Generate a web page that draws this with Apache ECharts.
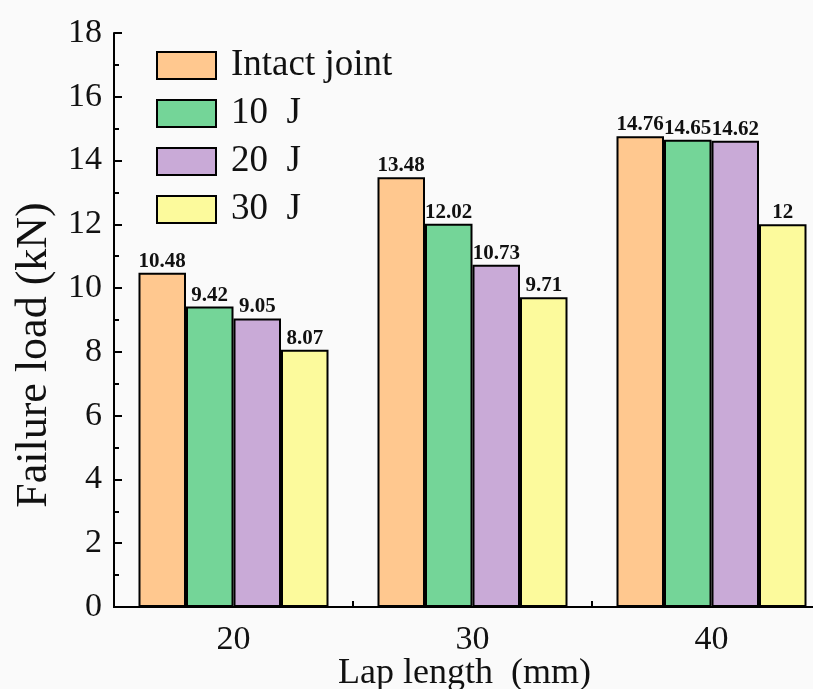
<!DOCTYPE html>
<html>
<head>
<meta charset="utf-8">
<script src="https://cdn.jsdelivr.net/npm/echarts@6/dist/echarts.min.js"></script>
<style>
html,body{margin:0;padding:0;background:#fafafa;}
#chart{width:813px;height:689px;}
</style>
</head>
<body>
<div id="chart"></div>
<script>
const categories = ['20', '30', '40'];
const seriesNames = ['Intact joint', '10 J', '20 J', '30 J'];
const intact = [10.48, 13.48, 14.76];
const j10 = [9.42, 12.02, 14.65];
const j20 = [9.05, 10.73, 14.62];
const j30 = [8.07, 9.71, 12];
const colors = ['#FFC88F', '#74D598', '#C9AAD7', '#FCFA9C'];

const serif = '"Liberation Serif", "DejaVu Serif", serif';
const chart = echarts.init(document.getElementById('chart'));
const dataSets = [intact, j10, j20, j30];

chart.setOption({
  backgroundColor: '#fafafa',
  animation: false,
  grid: { left: 114, top: 33, width: 717, height: 574, outerBoundsMode: 'none', containLabel: false },
  legend: {
    orient: 'vertical',
    left: 151,
    top: 42,
    icon: 'rect',
    itemWidth: 59,
    itemHeight: 27,
    itemGap: 11,
    data: seriesNames,
    formatter: (name) => name.replace(/ J$/, '  J'),
    itemStyle: { borderColor: '#000', borderWidth: 2 },
    textStyle: { fontFamily: serif, fontSize: 37, color: '#111', lineHeight: 36, padding: [0, 0, 0, 10] }
  },
  xAxis: [{
    type: 'category',
    data: categories,
    position: 'bottom',
    axisLine: { lineStyle: { color: '#000', width: 2 } },
    axisTick: { show: true, inside: true, length: 6, lineStyle: { color: '#000', width: 2 } },
    axisLabel: { fontFamily: serif, fontSize: 34, color: '#111', margin: 16 },
    name: 'Lap length  (mm)',
    nameLocation: 'middle',
    nameGap: 49,
    nameMoveOverlap: false,
    nameTextStyle: { fontFamily: serif, fontSize: 36, color: '#111', lineHeight: 36, padding: [0, 16, 0, 0] }
  }, {
    type: 'category',
    data: categories,
    position: 'top',
    axisLine: { lineStyle: { color: '#000', width: 2 } },
    axisTick: { show: false },
    axisLabel: { show: false }
  }],
  yAxis: [{
    type: 'value',
    min: 0,
    max: 18,
    interval: 2,
    position: 'left',
    axisLine: { show: true, lineStyle: { color: '#000', width: 2 } },
    axisTick: { show: true, inside: true, length: 8, lineStyle: { color: '#000', width: 2 } },
    minorTick: { show: true, splitNumber: 2, length: 5, lineStyle: { color: '#000', width: 2 } },
    splitLine: { show: false },
    axisLabel: { fontFamily: serif, fontSize: 34, color: '#111', margin: 12 },
    name: 'Failure load (kN)',
    nameLocation: 'middle',
    nameGap: 58,
    nameMoveOverlap: false,
    nameTextStyle: { fontFamily: serif, fontSize: 44, color: '#111', padding: [0, 70, 0, 0] }
  }, {
    type: 'value',
    min: 0,
    max: 18,
    interval: 2,
    position: 'right',
    axisLine: { show: true, lineStyle: { color: '#000', width: 2 } },
    axisTick: { show: true, inside: true, length: 8 },
    axisLabel: { show: false },
    splitLine: { show: false }
  }],
  series: seriesNames.map((name, i) => ({
    name: name,
    type: 'bar',
    data: dataSets[i],
    barGap: '0%',
    barCategoryGap: '20.5%',
    itemStyle: { color: colors[i], borderColor: '#000', borderWidth: 2 },
    label: {
      show: true,
      position: 'top',
      distance: 1,
      fontFamily: serif,
      fontWeight: 'bold',
      fontSize: 21,
      color: '#111'
    }
  }))
});
</script>
</body>
</html>
